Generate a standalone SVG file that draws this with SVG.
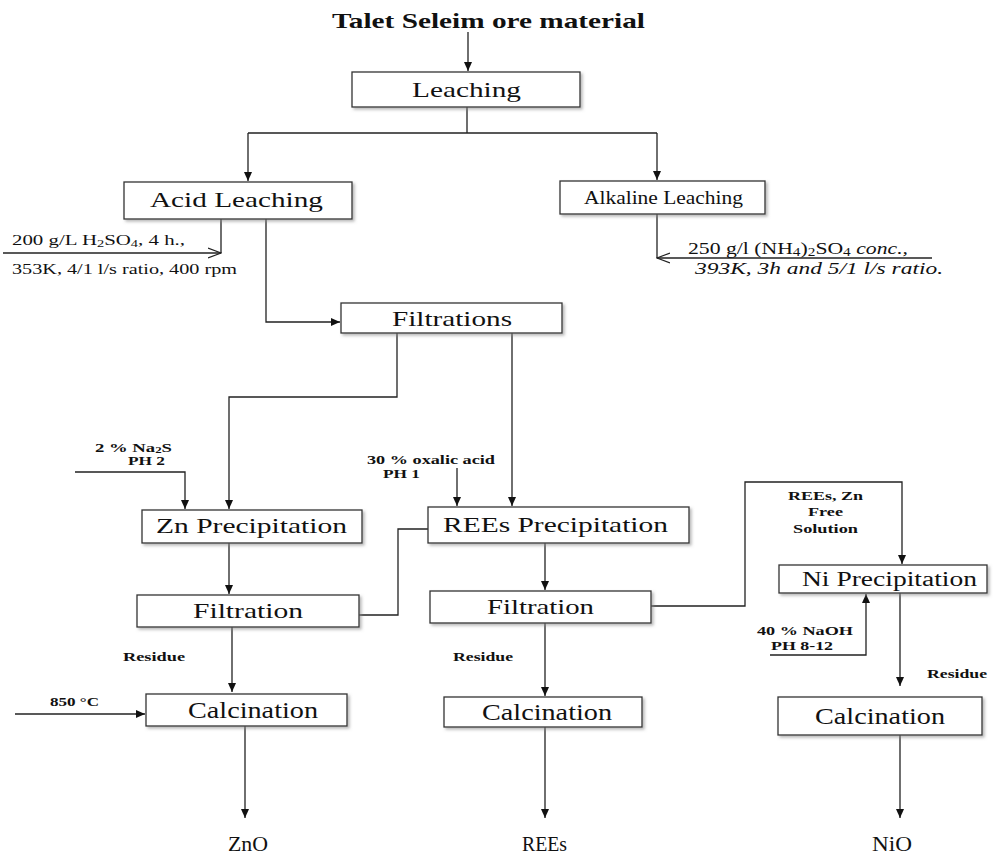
<svg xmlns="http://www.w3.org/2000/svg" width="1001" height="855" viewBox="0 0 1001 855">
<style>
.box{fill:#fff;stroke:#333;stroke-width:1.3;filter:url(#sh)}
.t{font-family:"Liberation Serif","Times New Roman",serif;fill:#111;text-anchor:middle}
.lbl{font-family:"Liberation Serif","Times New Roman",serif;fill:#111}
.b{font-weight:bold;font-size:13px}
.c{fill:none;stroke:#222;stroke-width:1.3}
</style>
<defs>
<filter id="sh" x="-5%" y="-20%" width="115%" height="160%">
<feDropShadow dx="2" dy="2" stdDeviation="1.5" flood-color="#888" flood-opacity="0.6"/>
</filter>
<marker id="a" markerWidth="10" markerHeight="10" refX="9" refY="5" orient="auto" markerUnits="userSpaceOnUse">
<path d="M0,1 L9,5 L0,9 Z" fill="#111"/>
</marker>
<marker id="o" markerWidth="14" markerHeight="12" refX="13" refY="6" orient="auto" markerUnits="userSpaceOnUse">
<path d="M0,1 L13,6 L0,11" fill="none" stroke="#222" stroke-width="1.2"/>
</marker>
</defs>

<text class="lbl" x="332" y="28" font-size="21" font-weight="bold" textLength="313" lengthAdjust="spacingAndGlyphs">Talet Seleim ore material</text>

<g id="connectors">
<path class="c" d="M468,32 V71" marker-end="url(#a)"/>
<path class="c" d="M467,107 V133 M248,133 H657"/>
<path class="c" d="M248,133 V181" marker-end="url(#a)"/>
<path class="c" d="M657,133 V180" marker-end="url(#a)"/>
<path class="c" d="M221,219 V253"/>
<path class="c" d="M3,253 H221" marker-end="url(#o)"/>
<path class="c" d="M266,219 V322 H340" marker-end="url(#a)"/>
<path class="c" d="M657,214 V258"/>
<path class="c" d="M932,258 H657" marker-end="url(#o)"/>
<path class="c" d="M397,333 V397 H229 V509" marker-end="url(#a)"/>
<path class="c" d="M512,333 V506" marker-end="url(#a)"/>
<path class="c" d="M75,472 H185 V509" marker-end="url(#a)"/>
<path class="c" d="M457,468 V506" marker-end="url(#a)"/>
<path class="c" d="M229,543 V594" marker-end="url(#a)"/>
<path class="c" d="M359,615 H398 V529 H428"/>
<path class="c" d="M545,543 V590" marker-end="url(#a)"/>
<path class="c" d="M651,606 H745 V482 H902 V564" marker-end="url(#a)"/>
<path class="c" d="M770,655 H866 V594" marker-end="url(#a)"/>
<path class="c" d="M900,593 V686" marker-end="url(#a)"/>
<path class="c" d="M232,627 V692" marker-end="url(#a)"/>
<path class="c" d="M15,714 H145" marker-end="url(#a)"/>
<path class="c" d="M545,623 V696" marker-end="url(#a)"/>
<path class="c" d="M245,726 V818" marker-end="url(#a)"/>
<path class="c" d="M545,727 V818" marker-end="url(#a)"/>
<path class="c" d="M900,735 V818" marker-end="url(#a)"/>
</g>

<g id="leaching"><rect class="box" x="352" y="72" width="228" height="35"/><text class="lbl" x="412" y="97" font-size="22" textLength="109" lengthAdjust="spacingAndGlyphs">Leaching</text></g>
<g id="acid-leaching"><rect class="box" x="124" y="182" width="228" height="37"/><text class="lbl" x="150" y="207" font-size="21" textLength="173" lengthAdjust="spacingAndGlyphs">Acid Leaching</text></g>
<g id="alkaline-leaching"><rect class="box" x="560" y="181" width="205" height="33"/><text class="lbl" x="584" y="204" font-size="19" textLength="159" lengthAdjust="spacingAndGlyphs">Alkaline Leaching</text></g>
<g id="filtrations"><rect class="box" x="341" y="303" width="221" height="30"/><text class="lbl" x="392" y="326" font-size="21" textLength="120" lengthAdjust="spacingAndGlyphs">Filtrations</text></g>
<g id="zn-precipitation"><rect class="box" x="142" y="510" width="220" height="33"/><text class="lbl" x="156" y="533" font-size="21" textLength="191" lengthAdjust="spacingAndGlyphs">Zn Precipitation</text></g>
<g id="rees-precipitation"><rect class="box" x="428" y="507" width="261" height="36"/><text class="lbl" x="443" y="532" font-size="21" textLength="225" lengthAdjust="spacingAndGlyphs">REEs Precipitation</text></g>
<g id="zn-filtration"><rect class="box" x="137" y="595" width="222" height="32"/><text class="lbl" x="193" y="618" font-size="21" textLength="110" lengthAdjust="spacingAndGlyphs">Filtration</text></g>
<g id="rees-filtration"><rect class="box" x="430" y="591" width="221" height="32"/><text class="lbl" x="487" y="614" font-size="21" textLength="107" lengthAdjust="spacingAndGlyphs">Filtration</text></g>
<g id="ni-precipitation"><rect class="box" x="779" y="565" width="208" height="28"/><text class="lbl" x="802" y="586" font-size="20" textLength="175" lengthAdjust="spacingAndGlyphs">Ni Precipitation</text></g>
<g id="zn-calcination"><rect class="box" x="146" y="694" width="201" height="32"/><text class="lbl" x="188" y="718" font-size="23" textLength="130" lengthAdjust="spacingAndGlyphs">Calcination</text></g>
<g id="rees-calcination"><rect class="box" x="444" y="697" width="198" height="30"/><text class="lbl" x="482" y="720" font-size="23" textLength="130" lengthAdjust="spacingAndGlyphs">Calcination</text></g>
<g id="ni-calcination"><rect class="box" x="778" y="697" width="204" height="38"/><text class="lbl" x="815" y="724" font-size="23" textLength="130" lengthAdjust="spacingAndGlyphs">Calcination</text></g>

<g id="labels">
<text class="lbl" x="12" y="245" font-size="14.5" textLength="173" lengthAdjust="spacingAndGlyphs">200 g/L H<tspan font-size="10" dy="2">2</tspan><tspan dy="-2">SO</tspan><tspan font-size="10" dy="2">4</tspan><tspan dy="-2">, 4 h.,</tspan></text>
<text class="lbl" x="12" y="274" font-size="14.5" textLength="225" lengthAdjust="spacingAndGlyphs">353K, 4/1 l/s ratio, 400 rpm</text>
<text class="lbl" x="688" y="254" font-size="17" textLength="220" lengthAdjust="spacingAndGlyphs">250 g/l (NH<tspan font-size="12" dy="2">4</tspan><tspan dy="-2">)</tspan><tspan font-size="12" dy="2">2</tspan><tspan dy="-2">SO</tspan><tspan font-size="12" dy="2">4</tspan><tspan dy="-2" font-style="italic"> conc.,</tspan></text>
<text class="lbl" x="695" y="274" font-size="17" font-style="italic" textLength="248" lengthAdjust="spacingAndGlyphs">393K, 3h and 5/1 l/s ratio.</text>
<text class="lbl b" x="95" y="452" textLength="77" lengthAdjust="spacingAndGlyphs">2 % Na<tspan font-size="9" dy="1">2</tspan><tspan dy="-1">S</tspan></text>
<text class="lbl b" x="128" y="465" textLength="37" lengthAdjust="spacingAndGlyphs">PH 2</text>
<text class="lbl b" x="367" y="464" textLength="128" lengthAdjust="spacingAndGlyphs">30 % oxalic acid</text>
<text class="lbl b" x="383" y="478" textLength="37" lengthAdjust="spacingAndGlyphs">PH 1</text>
<text class="lbl b" x="788" y="500" textLength="75" lengthAdjust="spacingAndGlyphs">REEs, Zn</text>
<text class="lbl b" x="808" y="516" textLength="35" lengthAdjust="spacingAndGlyphs">Free</text>
<text class="lbl b" x="793" y="533" textLength="65" lengthAdjust="spacingAndGlyphs">Solution</text>
<text class="lbl b" x="757" y="635" textLength="96" lengthAdjust="spacingAndGlyphs">40 % NaOH</text>
<text class="lbl b" x="771" y="650" textLength="62" lengthAdjust="spacingAndGlyphs">PH 8-12</text>
<text class="lbl b" x="927" y="678" textLength="60" lengthAdjust="spacingAndGlyphs">Residue</text>
<text class="lbl b" x="123" y="661" textLength="62" lengthAdjust="spacingAndGlyphs">Residue</text>
<text class="lbl b" x="453" y="661" textLength="60" lengthAdjust="spacingAndGlyphs">Residue</text>
<text class="lbl b" x="50" y="706" textLength="49" lengthAdjust="spacingAndGlyphs">850 °C</text>
<text class="lbl" x="228" y="851" font-size="22" textLength="40" lengthAdjust="spacingAndGlyphs">ZnO</text>
<text class="lbl" x="522" y="851" font-size="22" textLength="45" lengthAdjust="spacingAndGlyphs">REEs</text>
<text class="lbl" x="872" y="851" font-size="22" textLength="40" lengthAdjust="spacingAndGlyphs">NiO</text>
</g>
</svg>
